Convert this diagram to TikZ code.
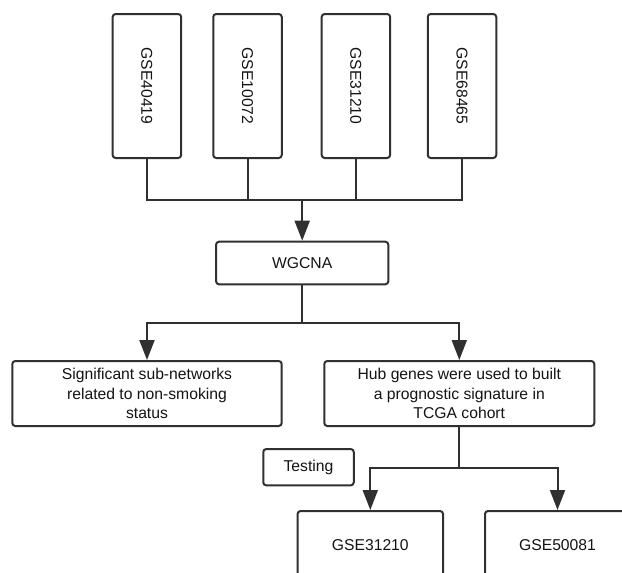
\documentclass[tikz,border=0pt]{standalone}
\usepackage{fontspec}
\setmainfont{Liberation Sans}
\usetikzlibrary{arrows.meta}
\definecolor{linegray}{HTML}{303030}
\definecolor{textgray}{HTML}{141414}
\begin{document}
\begin{tikzpicture}[x=1pt,y=-1pt,
  box/.style={draw=linegray, line width=2pt, rounded corners=3pt, inner sep=0pt,
    text=textgray, align=center, font=\fontsize{15.7}{19.2}\selectfont},
  vbox/.style={box, minimum width=68.5pt, minimum height=144pt},
  vlabel/.style={rotate=-90, text=textgray, font=\fontsize{15.7}{19.2}\selectfont},
  conn/.style={draw=linegray, line width=2pt},
  arr/.style={conn, -{Triangle[length=20pt,width=15pt]}}]
\clip (0,0) rectangle (622,573);
\fill[white] (0,0) rectangle (622,573);
% top data sets
\node[vbox] (t1) at (146.9,86) {};
\node[vbox] (t2) at (247.5,86) {};
\node[vbox] (t3) at (355.9,86) {};
\node[vbox] (t4) at (462.0,86) {};
\node[vlabel] (l1) at (t1.center) {GSE40419};
\node[vlabel] (l2) at (t2.center) {GSE10072};
\node[vlabel] (l3) at (t3.center) {GSE31210};
\node[vlabel] (l4) at (t4.center) {GSE68465};
% WGCNA
\node[box, minimum width=172.3pt, minimum height=42.6pt] (wg) at (302.2,263) {WGCNA};
% second level
\node[box, minimum width=269.4pt, minimum height=65pt] (sig) at (147,393.5)
  {Significant sub-networks\\related to non-smoking\\status};
\node[box, minimum width=270pt, minimum height=65pt] (hub) at (459.3,393.5)
  {Hub genes were used to built\\a prognostic signature in\\TCGA cohort};
% testing
\node[box, minimum width=90.5pt, minimum height=36.3pt] (test) at (308.5,467.2) {Testing};
\node[box, minimum width=145.5pt, minimum height=68pt] (b1) at (370.3,545) {GSE31210};
\node[box, minimum width=145pt, minimum height=68pt] (b2) at (557.5,545) {GSE50081};
% connectors
\coordinate (bus1) at (wg.north |- 0,200);
\draw[conn] (t1.south) |- (bus1);
\draw[conn] (t2.south) |- (bus1);
\draw[conn] (t3.south) |- (bus1);
\draw[conn] (t4.south) |- (bus1);
\draw[arr] (bus1) -- (wg.north);
\coordinate (bus2) at (wg.south |- 0,322.7);
\draw[conn] (wg.south) -- (bus2);
\draw[arr] (bus2) -| (sig.north);
\draw[arr] (bus2) -| (hub.north);
\coordinate (bus3) at (hub.south |- 0,468.3);
\draw[conn] (hub.south) -- (bus3);
\draw[arr] (bus3) -| (b1.north);
\draw[arr] (bus3) -| (b2.north);
\end{tikzpicture}
\end{document}
